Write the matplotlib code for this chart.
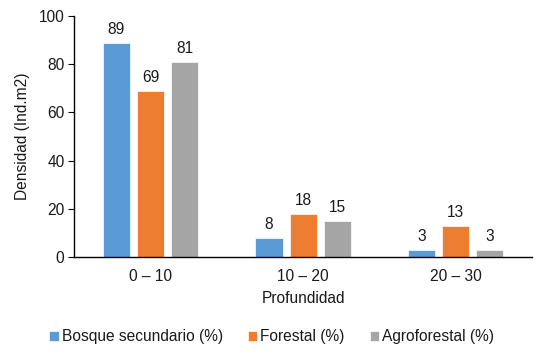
import matplotlib
matplotlib.use("Agg")
import matplotlib.pyplot as plt
import numpy as np

plt.rcParams['font.family'] = ['Liberation Sans', 'DejaVu Sans']

categories = ["0 – 10", "10 – 20", "20 – 30"]
series_names = ["Bosque secundario (%)", "Forestal (%)", "Agroforestal (%)"]
bosque = [89, 8, 3]
forestal = [69, 18, 13]
agroforestal = [81, 15, 3]
colors = ["#5B9BD5", "#ED7D31", "#A5A5A5"]

FS = 11.2

fig = plt.figure(figsize=(5.37, 3.51), dpi=100)
ax = fig.add_axes([0.138, 0.268, 0.853, 0.686])

x = np.arange(len(categories))
width = 0.178
pitch = 0.223
for i, (vals, name, c) in enumerate(zip([bosque, forestal, agroforestal], series_names, colors)):
    pos = x + (i - 1) * pitch
    bars = ax.bar(pos, vals, width=width, color=c, label=name, edgecolor="white", linewidth=0.5)
    for b, v in zip(bars, vals):
        ax.text(b.get_x() + b.get_width() / 2, v + 2.3, f"{v}", ha="center", va="bottom",
                fontsize=FS, color="#1a1a1a")

ax.set_xlim(-0.5, 2.5)
ax.set_ylim(0, 100)
ax.set_yticks([0, 20, 40, 60, 80, 100])
ax.set_xticks(x)
ax.set_xticklabels(categories)
ax.tick_params(axis="x", length=0, labelsize=FS, pad=9, labelcolor="#1a1a1a")
ax.tick_params(axis="y", length=4, direction="out", labelsize=FS, pad=3, labelcolor="#1a1a1a")
for s in ["top", "right"]:
    ax.spines[s].set_visible(False)
ax.spines["left"].set_linewidth(1.0)
ax.spines["bottom"].set_linewidth(1.0)

ax.set_ylabel("Densidad (Ind.m2)", fontsize=FS, labelpad=6, color="#1a1a1a")
ax.set_xlabel("Profundidad", fontsize=FS, labelpad=5, color="#1a1a1a")

handles, labels = ax.get_legend_handles_labels()
fig.legend(handles, labels, loc="center", bbox_to_anchor=(0.506, 0.04), ncol=3, frameon=False,
           fontsize=FS, handlelength=0.6, handleheight=0.6, handletextpad=0.2,
           columnspacing=1.6, labelcolor="#1a1a1a")

fig.savefig("out.png", dpi=100)
